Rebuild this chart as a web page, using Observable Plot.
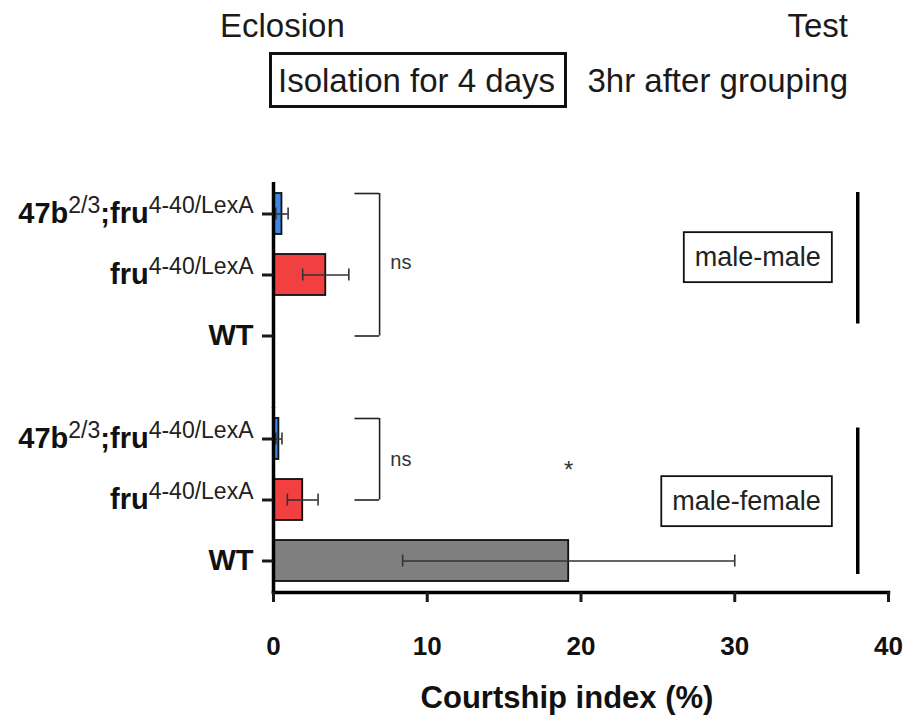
<!DOCTYPE html>
<html>
<head>
<meta charset="utf-8">
<script src="https://cdn.jsdelivr.net/npm/d3@7"></script>
<script src="https://cdn.jsdelivr.net/npm/@observablehq/plot@0.6"></script>
<style>
  body { margin: 0; background: #fff; }
  #page { position: relative; width: 906px; height: 719px; overflow: hidden;
          font-family: 'Liberation Sans', Arial, sans-serif; color: #1a1a1a; }
  .h { position: absolute; font-size: 33px; line-height: 33px; white-space: nowrap; }
  #box { position: absolute; left: 269px; top: 52px; width: 298px; height: 56px;
         box-sizing: border-box; border: 3px solid #111; }
  #chart { position: absolute; left: 0; top: 140px; }
  #xtitle { position: absolute; left: 267px; width: 600px; top: 682px; text-align: center;
            font-size: 31px; line-height: 31px; font-weight: bold; color: #111; }
</style>
</head>
<body>
<div id="page">
  <div id="box"></div>
  <div class="h" id="t1" style="left:220px;top:9px"></div>
  <div class="h" id="t2" style="right:58px;top:9px"></div>
  <div class="h" id="t3" style="left:278px;top:64px"></div>
  <div class="h" id="t4" style="right:58px;top:64px"></div>
  <div id="chart"></div>
  <div id="xtitle"></div>
</div>
<script>
// ---- data ----
const headerTexts = ["Eclosion", "Test", "Isolation for 4 days", "3hr after grouping"];
const xTitle = "Courtship index (%)";
const groups = ["male-male", "male-female"];
const genotypes = ["47b", "fru", "WT"];
const genotypeLabelParts = {
  "47b": [["47b", false], ["2/3", true], [";fru", false], ["4-40/LexA", true]],
  "fru": [["fru", false], ["4-40/LexA", true]],
  "WT":  [["WT", false]]
};
const meanMaleMale   = [0.55, 3.4, 0];
const semMaleMale    = [0.4, 1.5, 0];
const meanMaleFemale = [0.35, 1.9, 19.2];
const semMaleFemale  = [0.2, 1.0, 10.8];
const barColors = ["#3d87e6", "#f23f3f", "#7f7f7f"];
const xTicks = [0, 10, 20, 30, 40];
const brackets = [
  {group: "male-male", from: "47b", to: "WT", label: "ns"},
  {group: "male-female", from: "47b", to: "fru", label: "ns"}
];
const stars = [{group: "male-female", genotype: "WT", label: "*"}];

// ---- header ----
document.getElementById("t1").textContent = headerTexts[0];
document.getElementById("t2").textContent = headerTexts[1];
document.getElementById("t3").textContent = headerTexts[2];
document.getElementById("t4").textContent = headerTexts[3];
document.getElementById("xtitle").textContent = xTitle;

// ---- table ----
const rows = [];
genotypes.forEach((g, i) => {
  rows.push({group: groups[0], genotype: g, mean: meanMaleMale[i], sem: semMaleMale[i]});
  rows.push({group: groups[1], genotype: g, mean: meanMaleFemale[i], sem: semMaleFemale[i]});
});
const errRows = rows.filter(d => d.sem > 0);
const plainLabel = g => genotypeLabelParts[g].map(p => p[0]).join("");
const starRows = stars.map(s => ({...s, x: rows.find(r => r.group === s.group && r.genotype === s.genotype).mean}));

const FONT = "'Liberation Sans', Arial, sans-serif";
const plot = Plot.plot({
  width: 906,
  height: 540,
  marginLeft: 273,
  marginRight: 18,
  marginTop: 42,
  marginBottom: 87,
  style: {fontFamily: FONT, background: "white", overflow: "visible"},
  x: {domain: [0, 40]},
  y: {domain: genotypes, paddingInner: 0.336, paddingOuter: 0.17},
  fy: {domain: groups, paddingInner: 0.177, paddingOuter: 0, axis: null},
  color: {domain: genotypes, range: barColors},
  marks: [
    // bars
    Plot.barX(rows, {filter: d => d.mean > 0, x: "mean", y: "genotype", fy: "group",
      fill: "genotype", stroke: "#111", strokeWidth: 1.8}),
    // error bars
    Plot.ruleY(errRows, {y: "genotype", fy: "group", x1: d => d.mean - d.sem, x2: d => d.mean + d.sem,
      stroke: "#333", strokeWidth: 1.6}),
    Plot.tickX(errRows, {y: "genotype", fy: "group", x: d => d.mean - d.sem, stroke: "#333", strokeWidth: 1.6, insetTop: 14.5, insetBottom: 14.5}),
    Plot.tickX(errRows, {y: "genotype", fy: "group", x: d => d.mean + d.sem, stroke: "#333", strokeWidth: 1.6, insetTop: 14.5, insetBottom: 14.5}),
    // y axis line (continuous across the two panels)
    Plot.ruleX([groups[0]], {fy: d => d, x: () => 0, stroke: "#000", strokeWidth: 3.5, insetBottom: -41}),
    Plot.ruleX([groups[1]], {fy: d => d, x: () => 0, stroke: "#000", strokeWidth: 3.5, insetBottom: -2}),
    // x axis line
    Plot.frame({anchor: "bottom", facetAnchor: "bottom", stroke: "#000", strokeWidth: 3.5}),
    // axes
    Plot.axisX({ticks: xTicks, tickSize: 10, tickPadding: 34, fontSize: 26, fontWeight: "bold",
      strokeWidth: 3, label: null, tickFormat: d => String(d), fill: "#111"}),
    Plot.axisY({tickSize: 11, tickPadding: 9, fontSize: 29, fontWeight: "bold", strokeWidth: 3,
      label: null, tickFormat: plainLabel, fill: "#111"}),
    // brackets
    Plot.ruleY(brackets, {fy: "group", y: "from", x1: () => 5.3, x2: () => 6.9, dy: -20.5, stroke: "#222", strokeWidth: 1.6}),
    Plot.ruleY(brackets, {fy: "group", y: "to", x1: () => 5.3, x2: () => 6.9, stroke: "#222", strokeWidth: 1.6}),
    Plot.ruleX(brackets, {fy: "group", x: () => 6.9, y1: "from", y2: "to", insetBottom: 20.5, stroke: "#222", strokeWidth: 1.6}),
    Plot.text(brackets.slice(0, 1), {fy: "group", y: "to", x: () => 7.6, text: "label", dy: -73, textAnchor: "start", fontSize: 20, fill: "#333"}),
    Plot.text(brackets.slice(1), {fy: "group", y: "to", x: () => 7.6, text: "label", dy: -40, textAnchor: "start", fontSize: 20, fill: "#333"}),
    // significance star
    Plot.text(starRows, {fy: "group", y: () => "47b", x: "x", text: "label", dy: 31, fontSize: 24, fill: "#333"}),
    // group labels and right-hand lines
    Plot.text([groups[0]], {fy: d => d, y: () => "fru", x: () => 35.6, text: d => d, dy: -17.5, textAnchor: "end", fontSize: 27, fill: "#222"}),
    Plot.text([groups[1]], {fy: d => d, y: () => "fru", x: () => 35.6, text: d => d, dy: 1.5, textAnchor: "end", fontSize: 27, fill: "#222"}),
    Plot.ruleX([groups[0]], {fy: d => d, x: () => 38, stroke: "#000", strokeWidth: 3.5, insetTop: 10, insetBottom: 43.5}),
    Plot.ruleX([groups[1]], {fy: d => d, x: () => 38, stroke: "#000", strokeWidth: 3.5, insetTop: 20.5, insetBottom: 18})
  ]
});
document.getElementById("chart").appendChild(plot);

// ---- superscripts in tick labels, boxes around group labels ----
const svg = plot.tagName.toLowerCase() === "svg" ? plot : plot.querySelector("svg");
const NS = "http://www.w3.org/2000/svg";
const plainToKey = {};
genotypes.forEach(g => plainToKey[plainLabel(g)] = g);
svg.querySelectorAll("text").forEach(t => {
  const key = plainToKey[t.textContent];
  if (key && genotypeLabelParts[key].length > 1) {
    t.textContent = "";
    let up = false;
    genotypeLabelParts[key].forEach(([s, sup]) => {
      const ts = document.createElementNS(NS, "tspan");
      ts.textContent = s;
      if (sup && !up) { ts.setAttribute("dy", "-10"); up = true; }
      else if (!sup && up) { ts.setAttribute("dy", "10"); up = false; }
      if (sup) { ts.setAttribute("font-size", "23"); ts.setAttribute("font-weight", "normal"); ts.setAttribute("fill", "#222"); }
      t.appendChild(ts);
    });
  }
  if (groups.includes(t.textContent)) {
    const b = t.getBBox();
    const r = document.createElementNS(NS, "rect");
    r.setAttribute("x", b.x - 11);
    r.setAttribute("y", b.y - 10);
    r.setAttribute("width", b.width + 22);
    r.setAttribute("height", b.height + 20);
    r.setAttribute("fill", "white");
    r.setAttribute("stroke", "#111");
    r.setAttribute("stroke-width", "1.8");
    if (t.getAttribute("transform")) r.setAttribute("transform", t.getAttribute("transform"));
    t.parentNode.insertBefore(r, t);
  }
});
</script>
</body>
</html>
